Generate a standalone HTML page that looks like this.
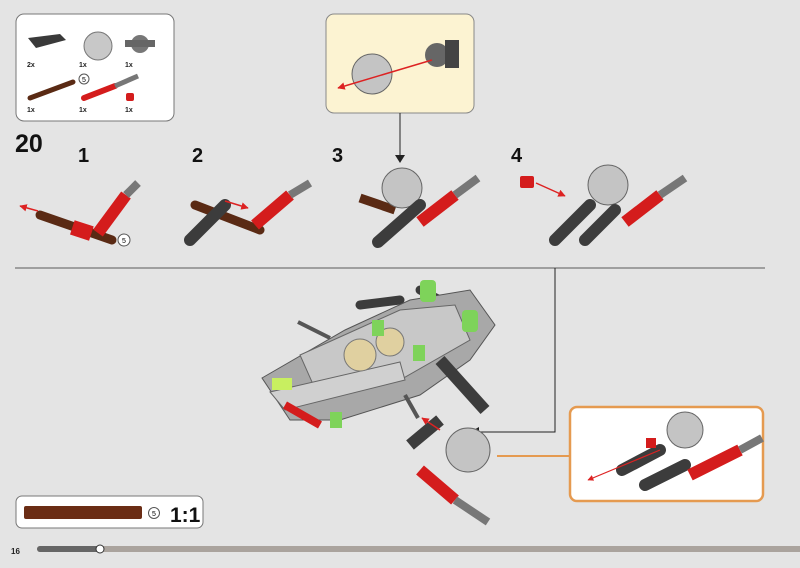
<!DOCTYPE html>
<html><head><meta charset="utf-8"><style>
html,body{margin:0;padding:0;background:#e4e4e4;}
svg{display:block;font-family:"Liberation Sans",sans-serif;}
</style></head><body>
<svg width="800" height="568" viewBox="0 0 800 568" xmlns="http://www.w3.org/2000/svg">
<rect width="800" height="568" fill="#e4e4e4"/>
<defs>
<marker id="ar" viewBox="0 0 10 10" refX="9" refY="5" markerWidth="5" markerHeight="5" orient="auto"><path d="M0,0L10,5L0,10z" fill="#d22"/></marker>
</defs>
<!-- parts box -->
<rect x="16" y="14" width="158" height="107" rx="8" fill="#fff" stroke="#777" stroke-width="1"/>
<g>
<path d="M28 38 L60 34 L66 40 L36 48 Z" fill="#3a3a3a"/>
<circle cx="98" cy="46" r="14" fill="#c8c8c8" stroke="#777"/>
<circle cx="140" cy="44" r="9" fill="#777"/><rect x="125" y="40" width="30" height="7" fill="#666"/>
<line x1="30" y1="98" x2="73" y2="82" stroke="#5a2a14" stroke-width="5" stroke-linecap="round"/>
<circle cx="84" cy="79" r="5" fill="#fff" stroke="#555"/><text x="84" y="82" font-size="7" text-anchor="middle">5</text>
<line x1="84" y1="98" x2="115" y2="86" stroke="#d41c1c" stroke-width="6" stroke-linecap="round"/>
<line x1="115" y1="86" x2="138" y2="76" stroke="#777" stroke-width="5"/>
<rect x="126" y="93" width="8" height="8" rx="2" fill="#d41c1c"/>
</g>
<g font-size="7" font-weight="bold" fill="#222">
<text x="27" y="67">2x</text><text x="79" y="67">1x</text><text x="125" y="67">1x</text>
<text x="27" y="112">1x</text><text x="79" y="112">1x</text><text x="125" y="112">1x</text>
</g>
<!-- yellow callout -->
<rect x="326" y="14" width="148" height="99" rx="8" fill="#fcf3d2" stroke="#888"/>
<circle cx="372" cy="74" r="20" fill="#c4c4c4" stroke="#666"/>
<circle cx="437" cy="55" r="12" fill="#666"/><rect x="445" y="40" width="14" height="28" fill="#444"/>
<line x1="432" y1="60" x2="338" y2="88" stroke="#d22" stroke-width="1.5" marker-end="url(#ar)"/>
<line x1="400" y1="113" x2="400" y2="158" stroke="#222" stroke-width="1"/>
<path d="M395 155 L405 155 L400 163 Z" fill="#222"/>
<!-- step labels -->
<text x="15" y="152" font-size="25" font-weight="bold" fill="#111">20</text>
<g font-size="20" font-weight="bold" fill="#111">
<text x="78" y="162">1</text><text x="192" y="162">2</text><text x="332" y="162">3</text><text x="511" y="162">4</text>
</g>
<!-- step 1 -->
<line x1="40" y1="215" x2="112" y2="240" stroke="#5a2a14" stroke-width="9" stroke-linecap="round"/>
<line x1="98" y1="233" x2="126" y2="195" stroke="#d41c1c" stroke-width="12"/>
<line x1="126" y1="195" x2="138" y2="183" stroke="#777" stroke-width="8"/>
<rect x="72" y="223" width="20" height="15" fill="#d41c1c" transform="rotate(18 82 230)"/>
<line x1="38" y1="211" x2="20" y2="206" stroke="#d22" stroke-width="1.5" marker-end="url(#ar)"/>
<circle cx="124" cy="240" r="6" fill="#fff" stroke="#555"/><text x="124" y="243" font-size="7" text-anchor="middle">5</text>
<!-- step 2 -->
<line x1="195" y1="205" x2="260" y2="230" stroke="#5a2a14" stroke-width="9" stroke-linecap="round"/>
<line x1="190" y1="240" x2="225" y2="205" stroke="#3c3c3c" stroke-width="12" stroke-linecap="round"/>
<line x1="255" y1="225" x2="290" y2="195" stroke="#d41c1c" stroke-width="12"/>
<line x1="290" y1="195" x2="310" y2="183" stroke="#777" stroke-width="8"/>
<line x1="225" y1="201" x2="248" y2="208" stroke="#d22" stroke-width="1.5" marker-end="url(#ar)"/>
<!-- step 3 -->
<line x1="360" y1="198" x2="395" y2="210" stroke="#5a2a14" stroke-width="9"/>
<circle cx="402" cy="188" r="20" fill="#c4c4c4" stroke="#666"/>
<line x1="378" y1="242" x2="420" y2="205" stroke="#3c3c3c" stroke-width="12" stroke-linecap="round"/>
<line x1="420" y1="222" x2="455" y2="195" stroke="#d41c1c" stroke-width="12"/>
<line x1="455" y1="195" x2="478" y2="178" stroke="#777" stroke-width="8"/>
<!-- step 4 -->
<rect x="520" y="176" width="14" height="12" rx="2" fill="#d41c1c"/>
<line x1="536" y1="183" x2="565" y2="196" stroke="#d22" stroke-width="1.5" marker-end="url(#ar)"/>
<circle cx="608" cy="185" r="20" fill="#c4c4c4" stroke="#666"/>
<line x1="555" y1="240" x2="590" y2="205" stroke="#3c3c3c" stroke-width="12" stroke-linecap="round"/>
<line x1="585" y1="240" x2="615" y2="210" stroke="#3c3c3c" stroke-width="12" stroke-linecap="round"/>
<line x1="625" y1="222" x2="660" y2="195" stroke="#d41c1c" stroke-width="12"/>
<line x1="660" y1="195" x2="685" y2="178" stroke="#777" stroke-width="8"/>
<!-- divider -->
<line x1="15" y1="268" x2="765" y2="268" stroke="#888" stroke-width="1.5"/>
<polyline points="555,268 555,432 477,432" fill="none" stroke="#222" stroke-width="1"/>
<path d="M470 432 L479 427 L479 437 Z" fill="#222"/>
<!-- main model -->
<line x1="298" y1="322" x2="330" y2="338" stroke="#555" stroke-width="4"/>
<line x1="360" y1="305" x2="400" y2="300" stroke="#3c3c3c" stroke-width="9" stroke-linecap="round"/>
<line x1="420" y1="290" x2="480" y2="320" stroke="#3c3c3c" stroke-width="9" stroke-linecap="round"/>
<path d="M262 378 L345 330 L410 300 L470 290 L495 325 L470 360 L420 395 L340 420 L290 420 Z" fill="#a8a8a8" stroke="#555"/>
<path d="M300 355 L400 310 L455 305 L470 340 L400 380 L320 400 Z" fill="#c8c8c8" stroke="#666"/>
<path d="M270 392 L400 362 L405 380 L285 410 Z" fill="#d0d0d0" stroke="#666"/>
<circle cx="360" cy="355" r="16" fill="#e0d0a0" stroke="#777"/>
<circle cx="390" cy="342" r="14" fill="#e0d0a0" stroke="#777"/>
<rect x="420" y="280" width="16" height="22" rx="4" fill="#7ed35a"/>
<rect x="462" y="310" width="16" height="22" rx="4" fill="#7ed35a"/>
<rect x="372" y="320" width="12" height="16" fill="#7ed35a"/>
<rect x="413" y="345" width="12" height="16" fill="#7ed35a"/>
<rect x="272" y="378" width="20" height="12" fill="#c8ef60"/>
<rect x="330" y="412" width="12" height="16" fill="#7ed35a"/>
<line x1="285" y1="405" x2="320" y2="425" stroke="#d41c1c" stroke-width="8"/>
<line x1="440" y1="360" x2="485" y2="410" stroke="#3c3c3c" stroke-width="12"/>
<line x1="405" y1="395" x2="418" y2="418" stroke="#555" stroke-width="4"/>
<!-- sub assembly -->
<line x1="410" y1="445" x2="440" y2="420" stroke="#3c3c3c" stroke-width="12"/>
<circle cx="468" cy="450" r="22" fill="#c4c4c4" stroke="#666"/>
<line x1="420" y1="470" x2="455" y2="500" stroke="#d41c1c" stroke-width="12"/>
<line x1="455" y1="500" x2="488" y2="522" stroke="#777" stroke-width="8"/>
<line x1="440" y1="430" x2="422" y2="418" stroke="#d22" stroke-width="1.5" marker-end="url(#ar)"/>
<!-- orange callout -->
<line x1="497" y1="456" x2="570" y2="456" stroke="#e59a50" stroke-width="2"/>
<rect x="570" y="407" width="193" height="94" rx="7" fill="#fff" stroke="#e59a50" stroke-width="2.5"/>
<circle cx="685" cy="430" r="18" fill="#c4c4c4" stroke="#666"/>
<line x1="622" y1="470" x2="660" y2="450" stroke="#3c3c3c" stroke-width="12" stroke-linecap="round"/>
<line x1="645" y1="485" x2="685" y2="465" stroke="#3c3c3c" stroke-width="12" stroke-linecap="round"/>
<line x1="690" y1="475" x2="740" y2="450" stroke="#d41c1c" stroke-width="12"/>
<line x1="740" y1="450" x2="762" y2="438" stroke="#777" stroke-width="8"/>
<rect x="646" y="438" width="10" height="10" fill="#d41c1c"/>
<line x1="660" y1="450" x2="588" y2="480" stroke="#d22" stroke-width="1.2" marker-end="url(#ar)"/>
<!-- bottom box -->
<rect x="16" y="496" width="187" height="32" rx="6" fill="#fff" stroke="#777"/>
<rect x="24" y="506" width="118" height="13" rx="2" fill="#6b2d15"/>
<circle cx="154" cy="513" r="5.5" fill="#fff" stroke="#555"/><text x="154" y="516" font-size="7" text-anchor="middle">5</text>
<text x="170" y="522" font-size="21" font-weight="bold" fill="#111">1:1</text>
<!-- progress -->
<text x="11" y="554" font-size="8" font-weight="bold" fill="#222">16</text>
<rect x="37" y="546" width="770" height="6" rx="3" fill="#aaa39d"/>
<rect x="37" y="546" width="63" height="6" rx="3" fill="#666"/>
<circle cx="100" cy="549" r="4" fill="#fff" stroke="#333"/>
</svg>
</body></html>
